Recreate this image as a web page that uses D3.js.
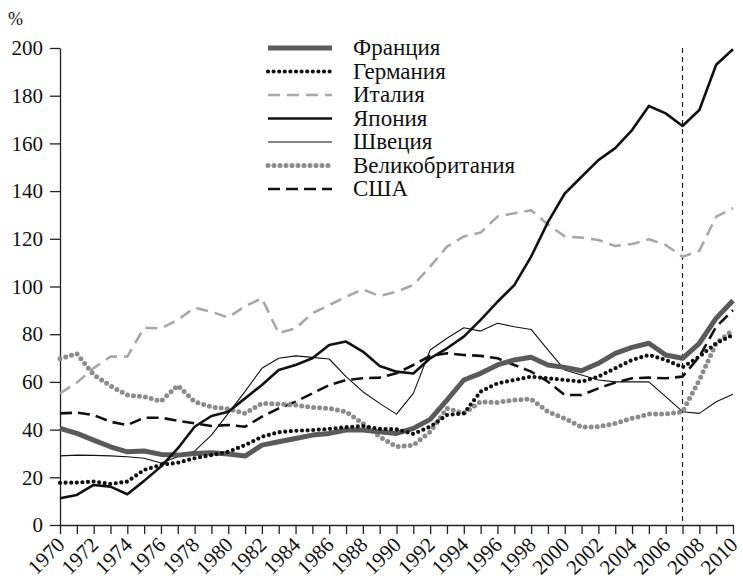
<!DOCTYPE html>
<html>
<head>
<meta charset="utf-8">
<script src="https://cdn.jsdelivr.net/npm/d3@7"></script>
<style>
  body { margin: 0; background: #fff; }
  svg text { font-family: "Liberation Serif", "DejaVu Serif", serif; fill: #111; }
</style>
</head>
<body>
<div id="chart"></div>
<script>
var years = d3.range(1970, 2011);
var yTicks = [0, 20, 40, 60, 80, 100, 120, 140, 160, 180, 200];

var france = [40.5, 38.4, 35.6, 32.8, 30.7, 31, 29.6, 29.3, 30, 30.3, 29.8, 28.9,
  33.5, 34.9, 36.3, 37.7, 38.4, 39.8, 39.8, 39.1, 38.4,
  40.5, 44.3, 52.4, 60.8, 63.6, 67.1, 69.2, 70.3, 67.1, 66.1, 64.7, 67.8,
  72, 74.5, 76.2, 71.3, 69.9, 76.2, 86.7, 94.1];
var germany = [17.7, 17.8, 18.2, 17.2, 18.2, 23.1, 25.2, 26.1, 28, 29.3, 30.7, 33.5,
  37, 38.9, 39.5, 39.8, 40.3, 41, 41.5, 40.3, 40.1,
  38.2, 41.2, 46.1, 46.8, 55.9, 59.4, 60.8, 62.2, 61.5, 60.8, 60.1, 62.2,
  65.7, 69.2, 71.3, 69.2, 66.1, 70.6, 76.2, 79.7];
var italy = [55.2, 59.7, 65.8, 70.6, 70.6, 82.7, 82.4, 86, 91.1, 89.4, 87, 91.8,
  95, 80.4, 82.5, 88.8, 92.2, 95.7, 98.8, 96, 97.8,
  100.6, 108.3, 116.7, 121, 122.6, 129.3, 130.7, 132, 126, 121, 120.5, 119.5,
  117, 117.8, 119.8, 117.4, 112.5, 115, 129.3, 132.8];
var japan = [11.2, 12.6, 16.8, 16.1, 12.9, 18.5, 24.5, 32.1, 41.2, 45.7, 47.5, 53.1,
  58.7, 65, 67.1, 69.9, 75.5, 76.9, 72.7, 66.7, 64.3,
  63.5, 69.9, 74.1, 79, 86, 93.6, 100.6, 112.5, 127, 139, 146, 153,
  158, 165.6, 175.7, 172.6, 167.3, 174, 193, 199.5];
var sweden = [29, 29.3, 29.2, 29, 28.6, 28, 26, 28.6, 31, 37.7, 46.8, 56,
  65.7, 69.9, 70.9, 70.3, 69.6, 62.2, 55.9, 51, 46.5,
  55.2, 73.4, 78.3, 82.7, 81.3, 84.6, 83.1, 82, 73.4, 65, 62.9, 60.8,
  60, 60, 60, 53.8, 47.5, 46.8, 51.7, 54.8];
var uk = [69.7, 71.8, 63, 58.3, 54.5, 53.8, 51.9, 58.5, 51.7, 49.5, 48.7, 46.8,
  51, 50.7, 50.3, 49.3, 48.9, 47.5, 42.6, 37, 32.8,
  33.5, 39.1, 48.9, 46.8, 51.7, 51.4, 52.4, 52.8, 47.5, 44.7, 41, 41.2,
  42.6, 44.7, 46.5, 46.5, 47.5, 60.8, 76.2, 81.8];
var usa = [46.8, 47.1, 46.1, 43.3, 41.9, 45, 45, 43.7, 42.6, 41.5, 41.9, 41.2,
  45.4, 48.9, 51.7, 55.2, 58.7, 60.8, 61.5, 61.8, 63.6,
  67.1, 70.9, 72, 71.3, 70.9, 69.9, 67.1, 64.3, 60.1, 54.5, 54.5, 57.3,
  59.7, 61.5, 61.8, 61.5, 62.2, 70.6, 83.1, 90.1];
var markerYear = 2007;

// draw order + styles
var series = [
  {name: "Италия", values: italy, color: "#a8a8a8", width: 2.6, dash: "12,7", cap: "butt"},
  {name: "Швеция", values: sweden, color: "#111", width: 1.1, dash: null, cap: "butt"},
  {name: "США", values: usa, color: "#111", width: 2.6, dash: "12,6", cap: "butt"},
  {name: "Великобритания", values: uk, color: "#8c8c8c", width: 5, dash: "0,6", cap: "round"},
  {name: "Франция", values: france, color: "#5a5a5a", width: 5, dash: null, cap: "butt"},
  {name: "Германия", values: germany, color: "#111", width: 4.2, dash: "0,5.6", cap: "round"},
  {name: "Япония", values: japan, color: "#111", width: 2.6, dash: null, cap: "butt"}
];
var legendOrder = ["Франция", "Германия", "Италия", "Япония", "Швеция", "Великобритания", "США"];

var width = 743, height = 584;
var margin = {top: 48, right: 10, bottom: 59, left: 60};

var svg = d3.select("#chart").append("svg")
  .attr("width", width)
  .attr("height", height);

var x = d3.scaleLinear().domain([1970, 2010]).range([margin.left, 733]);
var y = d3.scaleLinear().domain([0, 200]).range([height - margin.bottom, margin.top]);

// y axis
var yAxis = svg.append("g")
  .attr("transform", "translate(" + margin.left + ",0)")
  .call(d3.axisLeft(y).tickValues(yTicks).tickSize(10).tickPadding(7).tickSizeOuter(0));
yAxis.select(".domain").attr("stroke", "#222").attr("stroke-width", 1.3);
yAxis.selectAll(".tick line").attr("stroke", "#222").attr("stroke-width", 1.3);
yAxis.selectAll(".tick text")
  .style("font-family", "Liberation Serif, serif")
  .style("font-size", "21px")
  .attr("fill", "#111");

svg.append("text")
  .attr("x", 8)
  .attr("y", 25)
  .style("font-size", "18px")
  .text("%");

// x axis
var xAxis = svg.append("g")
  .attr("transform", "translate(0," + y(0) + ")")
  .call(d3.axisBottom(x).tickValues(years).tickSize(9).tickFormat("").tickSizeOuter(0));
xAxis.select(".domain").attr("stroke", "#222").attr("stroke-width", 1.3);
xAxis.selectAll(".tick line").attr("stroke", "#222").attr("stroke-width", 1.3);

svg.append("g").selectAll("text")
  .data(years.filter(function(d) { return d % 2 === 0; }))
  .enter().append("text")
  .attr("transform", function(d) { return "translate(" + (x(d) + 6) + "," + (y(0) + 21) + ") rotate(-45)"; })
  .attr("text-anchor", "end")
  .style("font-size", "21px")
  .text(function(d) { return d; });

// 2007 marker
svg.append("line")
  .attr("x1", x(markerYear)).attr("x2", x(markerYear))
  .attr("y1", y(200)).attr("y2", y(0))
  .attr("stroke", "#222")
  .attr("stroke-width", 1.2)
  .attr("stroke-dasharray", "5,4");

// lines
var line = d3.line()
  .x(function(d, i) { return x(years[i]); })
  .y(function(d) { return y(d); });

svg.selectAll(".series")
  .data(series)
  .enter().append("path")
  .attr("class", "series")
  .attr("d", function(d) { return line(d.values); })
  .attr("fill", "none")
  .attr("stroke", function(d) { return d.color; })
  .attr("stroke-width", function(d) { return d.width; })
  .attr("stroke-dasharray", function(d) { return d.dash; })
  .attr("stroke-linecap", function(d) { return d.cap; })
  .attr("stroke-linejoin", "round");

// legend
var legend = svg.append("g");
var lg = legend.selectAll("g")
  .data(legendOrder.map(function(n) { return series.find(function(s) { return s.name === n; }); }))
  .enter().append("g")
  .attr("transform", function(d, i) { return "translate(0," + (48 + i * 23.5) + ")"; });

lg.append("line")
  .attr("x1", 268).attr("x2", 332)
  .attr("stroke", function(d) { return d.color; })
  .attr("stroke-width", function(d) { return d.width; })
  .attr("stroke-dasharray", function(d) { return d.dash; })
  .attr("stroke-linecap", function(d) { return d.cap; });

lg.append("text")
  .attr("x", 353)
  .attr("dy", "0.32em")
  .style("font-size", "23px")
  .text(function(d) { return d.name; });
</script>
</body>
</html>
